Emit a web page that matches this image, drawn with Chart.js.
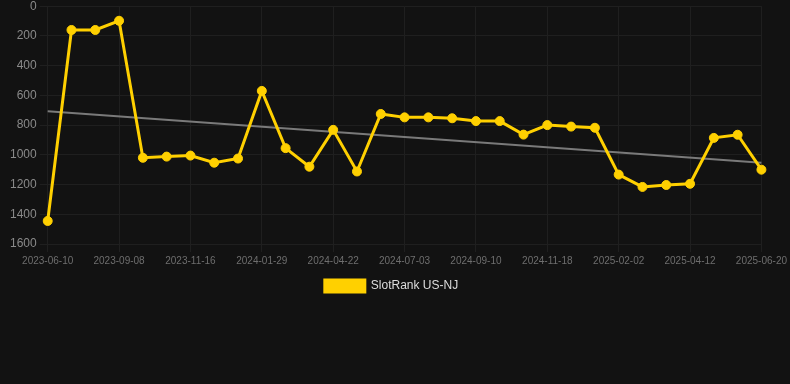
<!DOCTYPE html>
<html>
<head>
<meta charset="utf-8">
<script src="https://cdn.jsdelivr.net/npm/chart.js@4"></script>
<style>
  html, body { margin: 0; padding: 0; background: #121212; overflow: hidden; }
  #wrap { width: 790px; height: 306px; position: relative; margin-top: -4px; }
</style>
</head>
<body>
<div id="wrap"><canvas id="c"></canvas></div>
<script>
const dates = [
  '2023-06-10','2023-07-10','2023-08-09','2023-09-08','2023-10-01','2023-10-24',
  '2023-11-16','2023-12-11','2024-01-04','2024-01-29','2024-02-26','2024-03-25',
  '2024-04-22','2024-05-16','2024-06-09','2024-07-03','2024-07-26','2024-08-18',
  '2024-09-10','2024-10-03','2024-10-26','2024-11-18','2024-12-13','2025-01-08',
  '2025-02-02','2025-02-25','2025-03-20','2025-04-12','2025-05-05','2025-05-28',
  '2025-06-20'
];
const rankNJ = [
  1445, 160, 160, 98, 1020, 1012, 1005, 1053, 1025, 570, 955,
  1080, 832, 1112, 725, 748, 748, 754, 773, 773, 864,
  800, 810, 818, 1133, 1216, 1203, 1195, 886, 865, 1100
];
const trendEnds = [707, 1054];
const seriesName = 'SlotRank US-NJ';

const legendShift = {
  id: 'legendShift',
  afterLayout(chart) {
    if (chart.legend) {
      chart.legend.left -= 5;
      chart.legend.right -= 5;
    }
  }
};

new Chart(document.getElementById('c'), {
  type: 'line',
  data: {
    labels: dates,
    datasets: [
      {
        label: seriesName,
        data: rankNJ,
        borderColor: '#ffd000',
        backgroundColor: '#ffd000',
        borderWidth: 3,
        pointRadius: 4.5,
        pointBorderWidth: 1,
        pointHoverRadius: 4.5,
        pointBackgroundColor: '#ffd000',
        pointBorderColor: '#ffd000',
        tension: 0
      },
      {
        label: 'trend',
        data: [{x: dates[0], y: trendEnds[0]}, {x: dates[dates.length - 1], y: trendEnds[1]}],
        borderColor: '#7a7a7a',
        backgroundColor: '#7a7a7a',
        borderWidth: 2,
        pointRadius: 0,
        tension: 0
      }
    ]
  },
  options: {
    responsive: true,
    maintainAspectRatio: false,
    animation: false,
    layout: { padding: { left: 7, right: 4, top: 0, bottom: 0 } },
    scales: {
      x: {
        grid: { color: '#1f1f1f', tickLength: 8 },
        border: { display: false },
        ticks: {
          color: '#6e6e6e',
          font: { family: 'Liberation Sans, Arial, sans-serif', size: 10 },
          maxRotation: 0,
          autoSkip: true,
          maxTicksLimit: 11
        }
      },
      y: {
        reverse: true,
        min: 0,
        max: 1600,
        grid: { color: '#1f1f1f', tickLength: 8 },
        border: { display: false },
        ticks: {
          stepSize: 200,
          color: '#8a8a8a',
          font: { family: 'Liberation Sans, Arial, sans-serif', size: 12 },
          callback: (v) => String(v)
        }
      }
    },
    plugins: {
      legend: {
        position: 'bottom',
        labels: {
          color: '#dddddd',
          boxWidth: 40,
          boxHeight: 12,
          font: { family: 'Liberation Sans, Arial, sans-serif', size: 12 },
          filter: (item) => item.text === seriesName
        }
      },
      tooltip: { enabled: false }
    }
  },
  plugins: [legendShift]
});
</script>
</body>
</html>
